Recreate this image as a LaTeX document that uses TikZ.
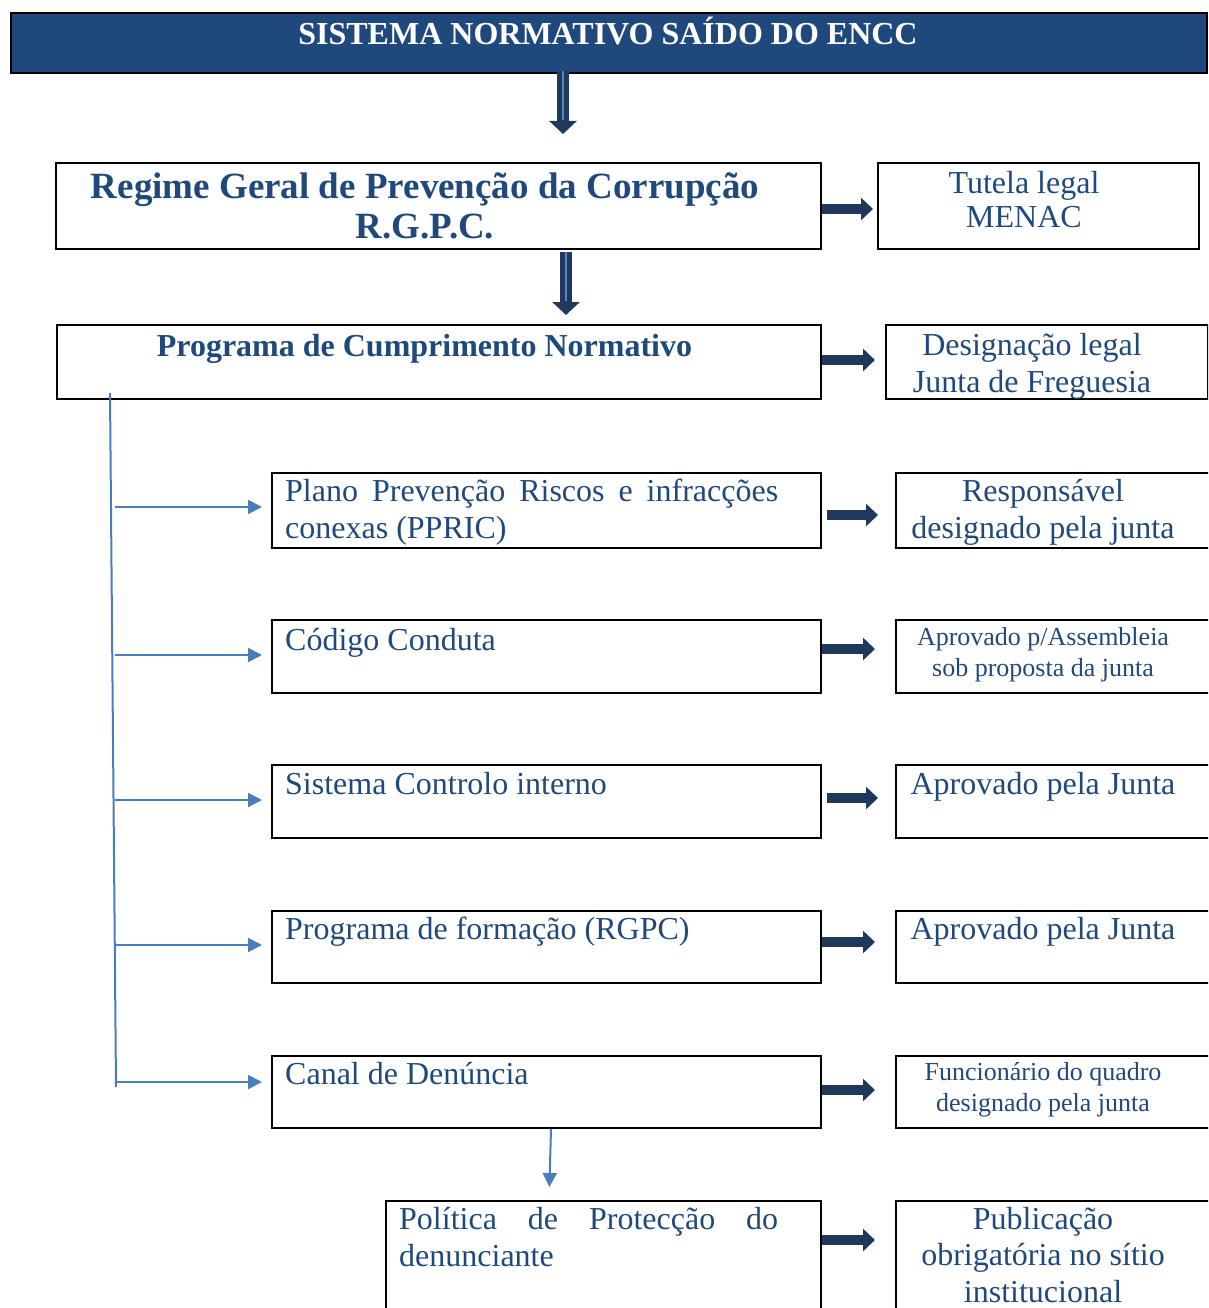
\documentclass[tikz,border=0pt]{standalone}
\usepackage{fontspec}
\setmainfont{Liberation Serif}
\usetikzlibrary{arrows.meta,calc}
\definecolor{hdr}{RGB}{31,73,125}
\definecolor{txtc}{RGB}{31,73,125}
\definecolor{darr}{RGB}{31,56,92}
\definecolor{barr}{RGB}{74,126,187}
\definecolor{stripec}{RGB}{84,134,196}
\begin{document}
\begin{tikzpicture}[x=1pt,y=-1pt,
 box/.style={draw=black, line width=2pt, rectangle, inner sep=0pt, anchor=north west},
 txt/.style={inner sep=0pt, text=txtc, font=\fontsize{32}{36.5}\selectfont},
 txtb/.style={inner sep=0pt, text=txtc, font=\fontsize{32}{36.5}\selectfont\bfseries},
 txts/.style={inner sep=0pt, text=txtc, font=\fontsize{26}{31}\selectfont},
 harrow/.style={draw=darr, line width=10pt, -{Triangle[length=12pt,width=22pt]}},
 varrow/.style={draw=darr, line width=12pt, -{Triangle[length=13pt,width=27pt]}},
 barrow/.style={draw=barr, line width=2pt, -{Triangle[length=14pt,width=14pt]}},
]
\useasboundingbox (0,0) rectangle (1208,1308);
\clip (0,0) rectangle (1208,1308);

% boxes
\node[box, fill=hdr, minimum width=1196, minimum height=60] (header) at (10,12) {};
\node[box, minimum width=765, minimum height=86] (rgpc) at (55,162) {};
\node[box, minimum width=321, minimum height=86] (tutela) at (877,162) {};
\node[box, minimum width=764, minimum height=74] (pcn) at (56,324) {};
\node[box, minimum width=322, minimum height=74] (desig) at (885,324) {};
\node[box, minimum width=549, minimum height=75] (ppric) at (271,472) {};
\node[box, minimum width=340, minimum height=75] (resp) at (895,472) {};
\node[box, minimum width=549, minimum height=73] (codigo) at (271,619) {};
\node[box, minimum width=340, minimum height=73] (aprov1) at (895,619) {};
\node[box, minimum width=549, minimum height=73] (sci) at (271,764) {};
\node[box, minimum width=340, minimum height=73] (aprov2) at (895,764) {};
\node[box, minimum width=549, minimum height=72] (form) at (271,910) {};
\node[box, minimum width=340, minimum height=72] (aprov3) at (895,910) {};
\node[box, minimum width=549, minimum height=72] (canal) at (271,1055) {};
\node[box, minimum width=340, minimum height=72] (func) at (895,1055) {};
\node[box, minimum width=435, minimum height=130] (pol) at (385,1200) {};
\node[box, minimum width=340, minimum height=130] (pub) at (895,1200) {};

% texts (multi-line nodes: base = last line's baseline)
\node[inner sep=0pt, text=white, font=\fontsize{32}{36}\selectfont\bfseries, anchor=base] (th) at (608,45) {SISTEMA NORMATIVO SAÍDO DO ENCC};
\node[inner sep=0pt, text=txtc, font=\fontsize{37}{40}\selectfont\bfseries, anchor=base, align=center] (trgpc) at (425,238) {Regime Geral de Prevenção da Corrupção\\R.G.P.C.};
\node[txt, font=\fontsize{32}{34}\selectfont, anchor=base, align=center] (ttut) at (1024,227) {Tutela legal\\MENAC};
\node[txtb, anchor=base] (tpcn) at (424.5,356) {Programa de Cumprimento Normativo};
\node[txt, font=\fontsize{32}{37}\selectfont, anchor=base, align=center] (tdes) at (1032,392) {Designação legal\\Junta de Freguesia};
\node[txt, anchor=base west, align=left] (tppric) at (285,538) {\makebox[493pt][s]{Plano Prevenção Riscos e infracções}\\conexas (PPRIC)};
\node[txt, anchor=base, align=center] (tresp) at (1043,538) {Responsável\\designado pela junta};
\node[txt, anchor=base west] (tcod) at (285,650) {Código Conduta};
\node[txts, anchor=base, align=center] (tap1) at (1043,676) {Aprovado p/Assembleia\\sob proposta da junta};
\node[txt, anchor=base west] (tsci) at (285,794) {Sistema Controlo interno};
\node[txt, anchor=base] (tap2) at (1043,794) {Aprovado pela Junta};
\node[txt, anchor=base west] (tform) at (285,939) {Programa de formação (RGPC)};
\node[txt, anchor=base] (tap3) at (1043,939) {Aprovado pela Junta};
\node[txt, anchor=base west] (tcanal) at (285,1084) {Canal de Denúncia};
\node[txts, anchor=base, align=center] (tfunc) at (1043,1111) {Funcionário do quadro\\designado pela junta};
\node[txt, font=\fontsize{32}{37}\selectfont, anchor=base west, align=left] (tpol) at (399,1266) {\makebox[379pt][s]{Política de Protecção do}\\denunciante};
\node[txt, font=\fontsize{32}{36.5}\selectfont, anchor=base, align=center] (tpub) at (1043,1302) {Publicação\\obrigatória no sítio\\institucional};

% thick vertical arrows
\draw[varrow, shorten <=-3pt, shorten >=28pt] ([xshift=553pt]header.south west) -- ([xshift=508pt]rgpc.north west);
\draw[stripec, line width=2pt, shorten <=-3pt, shorten >=42pt] ([xshift=553pt]header.south west) -- ([xshift=508pt]rgpc.north west);
\draw[varrow, shorten <=2pt, shorten >=9pt] ([xshift=511pt]rgpc.south west) -- ([xshift=510pt]pcn.north west);
\draw[stripec, line width=2pt, shorten <=2pt, shorten >=23pt] ([xshift=511pt]rgpc.south west) -- ([xshift=510pt]pcn.north west);

% thick horizontal arrows
\draw[harrow, shorten >=4pt] ([yshift=-3pt]rgpc.east) -- ([yshift=-3pt]tutela.west);
\draw[harrow, shorten >=10pt] ([yshift=2pt]pcn.east) -- ([yshift=2pt]desig.west);
\draw[harrow, shorten <=5pt, shorten >=17pt] ([yshift=-4.5pt]ppric.east) -- ([yshift=-4.5pt]resp.west);
\draw[harrow, shorten >=20pt] ([yshift=7.5pt]codigo.east) -- ([yshift=7.5pt]aprov1.west);
\draw[harrow, shorten <=5pt, shorten >=17pt] ([yshift=3.5pt]sci.east) -- ([yshift=3.5pt]aprov2.west);
\draw[harrow, shorten >=20pt] ([yshift=5pt]form.east) -- ([yshift=5pt]aprov3.west);
\draw[harrow, shorten >=20pt] ([yshift=2pt]canal.east) -- ([yshift=2pt]func.west);
\draw[harrow, shorten >=20pt] ([yshift=26pt]pol.east) -- ([yshift=26pt]pub.west);

% blue tree
\coordinate (vtop) at (110,393);
\coordinate (vbot) at (116,1087);
\draw[barr, line width=2pt] (vtop) -- (vbot);
\draw[barrow, shorten >=9pt] ([xshift=-156pt,yshift=3.5pt]ppric.west) -- ([yshift=3.5pt]ppric.west);
\draw[barrow, shorten >=9pt] ([xshift=-156pt,yshift=1.5pt]codigo.west) -- ([yshift=1.5pt]codigo.west);
\draw[barrow, shorten >=9pt] ([xshift=-156pt,yshift=1.5pt]sci.west) -- ([yshift=1.5pt]sci.west);
\draw[barrow, shorten >=9pt] ([xshift=-156pt,yshift=2pt]form.west) -- ([yshift=2pt]form.west);
\draw[barrow, shorten >=9pt] ([xshift=-156pt,yshift=10pt]canal.west) -- ([yshift=10pt]canal.west);
\draw[barrow, shorten >=13pt] ([xshift=280pt]canal.south west) -- ([xshift=164pt]pol.north west);
\end{tikzpicture}
\end{document}
